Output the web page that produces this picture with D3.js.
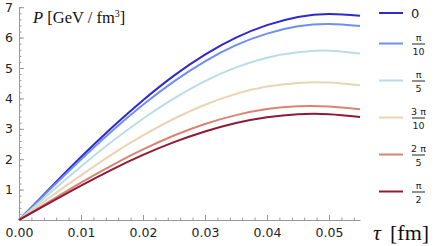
<!DOCTYPE html>
<html>
<head>
<meta charset="utf-8">
<script src="https://cdn.jsdelivr.net/npm/d3@7"></script>
<style>
  body { margin: 0; background: #fff; }
  svg { display: block; }
</style>
</head>
<body>
<div id="chart"></div>
<script>
// proper time samples (fm)
var tau = [0, 0.005, 0.010, 0.015, 0.020, 0.025, 0.030, 0.035, 0.040, 0.045, 0.050, 0.055];

// pressure (GeV/fm^3) for each angle
var p0      = [0, 1.05, 2.07, 3.04, 3.94, 4.75, 5.44, 6.00, 6.41, 6.68, 6.78, 6.72];
var pPi10   = [0, 1.01, 1.99, 2.93, 3.79, 4.56, 5.22, 5.75, 6.13, 6.37, 6.45, 6.38];
var pPi5    = [0, 0.89, 1.76, 2.58, 3.33, 4.00, 4.57, 5.02, 5.34, 5.52, 5.57, 5.48];
var p3Pi10  = [0, 0.75, 1.47, 2.16, 2.78, 3.33, 3.79, 4.15, 4.39, 4.51, 4.52, 4.43];
var p2Pi5   = [0, 0.62, 1.23, 1.80, 2.32, 2.78, 3.16, 3.45, 3.65, 3.74, 3.73, 3.64];
var pPi2    = [0, 0.57, 1.13, 1.66, 2.14, 2.56, 2.91, 3.19, 3.38, 3.48, 3.48, 3.39];

// legend labels (numerator / denominator)
var labelNum = ["0", "\u03c0", "\u03c0", "3 \u03c0", "2 \u03c0", "\u03c0"];
var labelDen = ["", "10", "5", "10", "5", "2"];
var colors = ["#2f27cf", "#6f8ff0", "#b9dde6", "#ebd3b3", "#d98473", "#8e1a34"];

// ticks
var xTicks = [0, 0.01, 0.02, 0.03, 0.04, 0.05];
var yTicks = [1, 2, 3, 4, 5, 6, 7];

var allSeries = [p0, pPi10, pPi5, p3Pi10, p2Pi5, pPi2];

var svgWidth = 436, svgHeight = 246;
var svg = d3.select("#chart").append("svg").attr("width", svgWidth).attr("height", svgHeight);

var x = d3.scaleLinear().domain([0, 0.055]).range([19, 360]);
var y = d3.scaleLinear().domain([0, 7]).range([220, 7.2]);

var axisColor = "#999";
var labelFont = "'DejaVu Sans', Verdana, sans-serif";
var serif = "'Liberation Serif', 'Times New Roman', serif";

// minor ticks first
svg.append("g").attr("transform", "translate(0,220)")
  .call(d3.axisBottom(x).tickValues(d3.range(0, 0.0549, 0.002)).tickFormat("").tickSizeInner(-2.5).tickSizeOuter(0))
  .call(g => g.select(".domain").remove())
  .call(g => g.selectAll("line").attr("stroke", axisColor));
svg.append("g").attr("transform", "translate(19,0)")
  .call(d3.axisLeft(y).tickValues(d3.range(0, 7.01, 0.2)).tickFormat("").tickSizeInner(-2.5).tickSizeOuter(0))
  .call(g => g.select(".domain").remove())
  .call(g => g.selectAll("line").attr("stroke", axisColor));

// major x axis
svg.append("g").attr("class", "xaxis").attr("transform", "translate(0,220)")
  .call(d3.axisBottom(x).tickValues(xTicks).tickFormat(d3.format(".2f")).tickSizeInner(-5).tickSizeOuter(0).tickPadding(8))
  .call(g => g.select(".domain").attr("stroke", axisColor))
  .call(g => g.selectAll("line").attr("stroke", axisColor))
  .call(g => g.selectAll("text").attr("fill", "#222").style("font-family", labelFont).style("font-size", "12.5px"));

// major y axis
svg.append("g").attr("class", "yaxis").attr("transform", "translate(19,0)")
  .call(d3.axisLeft(y).tickValues(yTicks).tickFormat(d3.format("d")).tickSizeInner(-5).tickSizeOuter(0).tickPadding(6))
  .call(g => g.select(".domain").attr("stroke", axisColor))
  .call(g => g.selectAll("line").attr("stroke", axisColor))
  .call(g => g.selectAll("text").attr("fill", "#222").style("font-family", labelFont).style("font-size", "12.5px"));

// curves
var line = d3.line().x((d, i) => x(tau[i])).y(d => y(d)).curve(d3.curveNatural);
svg.append("g").selectAll("path").data(allSeries).enter().append("path")
  .attr("d", line)
  .attr("fill", "none")
  .attr("stroke", (d, i) => colors[i])
  .attr("stroke-width", 2);

// axis labels
var yLab = svg.append("text").attr("x", 33).attr("y", 23)
  .style("font-family", serif).style("font-size", "16.5px").attr("fill", "#111");
yLab.append("tspan").style("font-style", "italic").text("P");
yLab.append("tspan").text(" [GeV / fm");
yLab.append("tspan").attr("dy", -6).style("font-size", "10px").text("3");
yLab.append("tspan").attr("dy", 6).text("]");

var xLab = svg.append("text").attr("x", 373).attr("y", 240)
  .style("font-family", serif).style("font-size", "22px").attr("fill", "#111");
xLab.append("tspan").style("font-style", "italic").text("\u03c4");
xLab.append("tspan").attr("x", 390).text("[fm]");

// legend
var legY = function(i) { return i === 0 ? 13 : 43.5 + 37 * (i - 1); };
var leg = svg.append("g").selectAll("g").data(labelNum).enter().append("g")
  .attr("transform", (d, i) => "translate(0," + legY(i) + ")");
leg.append("line").attr("x1", 379).attr("x2", 403).attr("y1", 0).attr("y2", 0)
  .attr("stroke", (d, i) => colors[i]).attr("stroke-width", 2);
leg.each(function(d, i) {
  var g = d3.select(this);
  if (labelDen[i] === "") {
    g.append("text").attr("x", 411).attr("y", 5).text(d)
      .style("font-family", labelFont).style("font-size", "13px").attr("fill", "#222");
  } else {
    g.append("text").attr("x", 418.5).attr("y", -3).attr("text-anchor", "middle").text(d)
      .style("font-family", labelFont).style("font-size", "9.5px").attr("fill", "#222");
    g.append("line").attr("x1", 412).attr("x2", 425).attr("y1", 0.5).attr("y2", 0.5)
      .attr("stroke", "#222").attr("stroke-width", 1);
    g.append("text").attr("x", 418.5).attr("y", 11).attr("text-anchor", "middle").text(labelDen[i])
      .style("font-family", labelFont).style("font-size", "9.5px").attr("fill", "#222");
  }
});
</script>
</body>
</html>
